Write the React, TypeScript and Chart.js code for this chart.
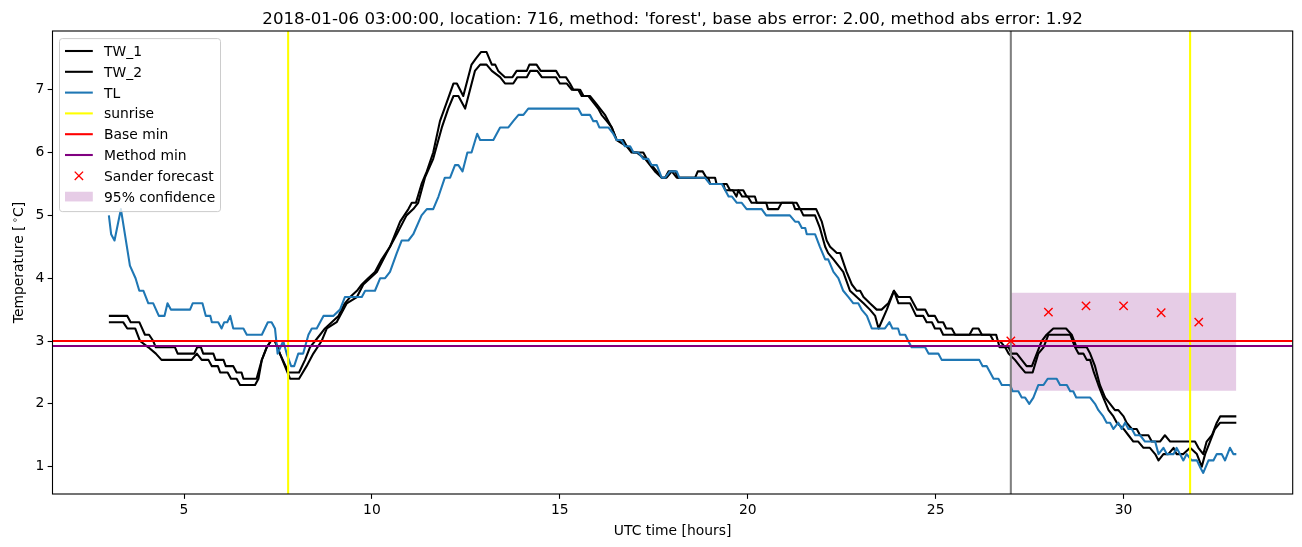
import React, { useEffect, useRef } from 'react';
import { Chart, registerables } from 'chart.js';

Chart.register(...registerables);

// ---------- data ----------
const tw1Hours = [3.0,3.49,3.58,3.81,3.96,4.07,4.18,4.25,4.76,4.83,5.27,5.35,5.45,5.51,5.78,5.84,6.05,6.11,6.31,6.40,6.53,6.58,6.93,7.07,7.20,7.31,7.42,7.55,7.78,8.06,8.22,8.35,8.62,8.75,8.93,9.11,9.28,9.42,9.60,9.73,9.90,10.08,10.26,10.48,10.75,10.97,11.06,11.17,11.32,11.46,11.63,11.81,11.99,12.17,12.26,12.43,12.65,12.77,12.90,13.05,13.19,13.28,13.36,13.54,13.74,13.85,14.12,14.19,14.38,14.49,14.90,15.00,15.16,15.27,15.36,15.54,15.63,15.80,15.94,16.07,16.20,16.29,16.38,16.51,16.69,16.78,16.96,17.22,17.31,17.44,17.58,17.71,17.80,17.89,18.07,18.15,18.60,18.67,18.80,18.90,19.13,19.17,19.44,19.53,19.88,19.97,20.19,20.24,21.30,21.39,21.82,21.97,22.10,22.19,22.37,22.46,22.63,22.77,22.90,22.99,23.08,23.25,23.43,23.56,23.74,23.89,24.01,24.32,24.50,24.72,24.81,24.98,25.07,25.20,25.28,25.43,25.52,25.90,25.99,26.14,26.23,26.61,26.70,26.94,27.02,27.16,27.29,27.42,27.56,27.69,27.82,27.95,28.13,28.47,28.62,28.75,29.02,29.11,29.24,29.37,29.51,29.64,29.77,29.86,30.00,30.08,30.22,30.35,30.44,30.66,30.75,30.88,30.97,31.10,31.24,31.90,31.99,32.12,32.21,32.35,32.48,32.57,33.00];
const tw1Values = [3.4,3.4,3.3,3.3,3.1,3.1,3.0,2.9,2.9,2.8,2.8,2.9,2.9,2.8,2.8,2.7,2.7,2.6,2.6,2.5,2.5,2.4,2.4,2.7,2.9,3.0,3.0,2.8,2.5,2.5,2.7,2.9,3.1,3.2,3.3,3.4,3.6,3.7,3.8,3.9,4.0,4.1,4.3,4.5,4.9,5.1,5.2,5.2,5.5,5.7,6.0,6.5,6.8,7.1,7.1,6.9,7.4,7.5,7.6,7.6,7.4,7.4,7.3,7.2,7.2,7.3,7.3,7.4,7.4,7.3,7.3,7.2,7.2,7.1,7.0,7.0,6.9,6.9,6.8,6.7,6.6,6.5,6.4,6.2,6.2,6.1,6.0,6.0,5.9,5.8,5.7,5.6,5.6,5.7,5.7,5.6,5.6,5.7,5.7,5.6,5.6,5.5,5.5,5.4,5.4,5.3,5.3,5.2,5.2,5.1,5.1,4.9,4.6,4.5,4.4,4.4,4.1,3.9,3.8,3.8,3.7,3.6,3.5,3.5,3.6,3.8,3.7,3.7,3.5,3.5,3.4,3.4,3.3,3.3,3.2,3.2,3.1,3.1,3.2,3.2,3.1,3.1,2.9,2.9,2.8,2.8,2.7,2.6,2.6,2.8,3.0,3.1,3.2,3.2,3.1,2.9,2.9,2.8,2.6,2.3,2.1,2.0,1.9,1.9,1.8,1.7,1.6,1.6,1.5,1.5,1.4,1.4,1.4,1.5,1.4,1.4,1.3,1.2,1.4,1.5,1.7,1.8,1.8];

const tw2Hours = [3.0,3.38,3.49,3.70,3.83,4.05,4.25,4.40,5.20,5.34,5.47,5.65,5.74,5.90,5.96,6.16,6.25,6.40,6.49,6.89,6.98,7.07,7.20,7.31,7.42,7.55,7.82,8.06,8.26,8.44,8.66,8.80,9.06,9.33,9.60,9.77,9.95,10.13,10.39,10.66,10.92,11.10,11.23,11.41,11.63,11.86,12.03,12.17,12.30,12.48,12.74,12.88,13.05,13.19,13.41,13.54,13.76,13.87,14.12,14.21,14.40,14.52,14.90,15.00,15.18,15.32,15.49,15.58,15.76,15.89,16.02,16.11,16.25,16.38,16.51,16.78,16.91,17.05,17.27,17.40,17.53,17.71,17.84,17.98,18.11,18.95,19.00,19.35,19.40,19.60,19.70,19.75,19.85,20.00,20.10,20.49,20.54,20.81,20.90,21.20,21.26,21.40,21.48,21.79,21.92,22.06,22.14,22.28,22.41,22.54,22.72,22.90,23.08,23.25,23.39,23.48,23.70,23.89,24.01,24.32,24.48,24.67,24.76,24.90,24.98,25.12,25.20,26.45,26.54,26.71,26.85,26.94,27.11,27.24,27.38,27.58,27.73,27.87,28.00,28.58,28.71,28.80,28.93,29.02,29.11,29.21,29.33,29.46,29.60,29.73,29.82,30.00,30.13,30.26,30.39,30.53,30.70,30.84,30.93,31.06,31.19,31.33,31.41,31.59,31.77,31.95,32.08,32.17,32.30,32.43,32.57,33.00];
const tw2Values = [3.3,3.3,3.2,3.2,3.0,2.9,2.8,2.7,2.7,2.8,2.7,2.7,2.6,2.6,2.5,2.5,2.4,2.4,2.3,2.3,2.4,2.7,2.9,3.0,3.0,2.8,2.4,2.4,2.6,2.8,3.0,3.2,3.3,3.6,3.7,3.9,4.0,4.1,4.4,4.7,5.0,5.1,5.2,5.6,5.9,6.4,6.7,6.9,6.9,6.7,7.3,7.4,7.4,7.3,7.2,7.1,7.1,7.2,7.2,7.3,7.3,7.2,7.2,7.1,7.1,7.0,7.0,6.9,6.9,6.8,6.7,6.6,6.5,6.4,6.2,6.1,6.0,6.0,5.9,5.8,5.7,5.6,5.6,5.7,5.6,5.6,5.5,5.5,5.4,5.4,5.3,5.4,5.3,5.3,5.2,5.2,5.1,5.1,5.2,5.2,5.1,5.1,5.0,5.0,4.8,4.5,4.4,4.3,4.2,4.1,3.8,3.7,3.6,3.5,3.4,3.2,3.5,3.8,3.6,3.6,3.4,3.4,3.3,3.3,3.2,3.2,3.1,3.1,3.0,3.0,2.9,2.8,2.7,2.6,2.5,2.5,2.8,2.9,3.1,3.1,2.9,2.8,2.8,2.7,2.7,2.5,2.3,2.1,1.9,1.8,1.7,1.6,1.5,1.4,1.4,1.3,1.3,1.2,1.1,1.2,1.2,1.3,1.2,1.2,1.3,1.2,1.0,1.2,1.4,1.6,1.7,1.7];

const tlHours = [3.00,3.06,3.15,3.32,3.56,3.71,3.81,3.92,4.05,4.18,4.33,4.48,4.56,4.65,5.16,5.23,5.49,5.58,5.70,5.74,5.91,6.00,6.07,6.15,6.23,6.31,6.58,6.67,7.07,7.23,7.33,7.42,7.49,7.64,7.73,7.85,7.93,8.04,8.17,8.31,8.40,8.53,8.71,8.97,9.15,9.28,9.73,9.82,10.08,10.22,10.35,10.48,10.66,10.79,10.97,11.10,11.32,11.46,11.63,11.77,11.94,12.08,12.21,12.30,12.41,12.54,12.65,12.80,12.88,13.23,13.41,13.63,13.76,13.90,14.03,14.16,15.49,15.58,15.80,15.89,15.98,16.05,16.29,16.42,16.51,16.64,16.73,16.87,16.96,17.09,17.22,17.35,17.44,17.58,17.71,17.80,17.93,18.11,18.18,18.86,18.99,19.31,19.40,19.49,19.58,19.71,19.84,19.97,20.37,20.49,21.12,21.26,21.35,21.44,21.53,21.57,21.79,21.92,22.06,22.14,22.28,22.41,22.54,22.68,22.81,22.94,23.03,23.17,23.30,23.65,23.77,23.85,24.00,24.05,24.19,24.27,24.36,24.72,24.81,25.07,25.16,26.16,26.25,26.36,26.45,26.54,26.67,26.76,26.98,27.05,27.20,27.29,27.38,27.49,27.60,27.73,27.87,27.98,28.22,28.31,28.49,28.58,28.66,28.74,29.11,29.24,29.33,29.46,29.55,29.64,29.73,29.86,29.95,30.04,30.13,30.22,30.31,30.44,30.57,30.70,30.84,30.93,31.06,31.15,31.33,31.41,31.50,31.59,31.68,31.81,31.95,32.03,32.12,32.26,32.39,32.48,32.61,32.70,32.83,32.92,33.00];
const tlValues = [5.0,4.7,4.6,5.1,4.2,4.0,3.8,3.8,3.6,3.6,3.4,3.4,3.6,3.5,3.5,3.6,3.6,3.4,3.4,3.3,3.3,3.2,3.3,3.3,3.4,3.2,3.2,3.1,3.1,3.3,3.3,3.2,2.8,3.0,2.8,2.6,2.6,2.8,2.8,3.1,3.2,3.2,3.4,3.4,3.5,3.7,3.7,3.8,3.8,4.0,4.0,4.1,4.4,4.6,4.6,4.7,5.0,5.1,5.1,5.3,5.6,5.6,5.8,5.8,5.7,6.0,6.0,6.3,6.2,6.2,6.4,6.4,6.5,6.6,6.6,6.7,6.7,6.6,6.6,6.5,6.5,6.4,6.4,6.3,6.2,6.2,6.1,6.1,6.0,6.0,5.9,5.9,5.8,5.8,5.6,5.6,5.7,5.7,5.6,5.6,5.5,5.5,5.4,5.3,5.3,5.2,5.2,5.1,5.1,5.0,5.0,4.9,4.9,4.8,4.8,4.7,4.7,4.5,4.3,4.3,4.1,4.0,3.8,3.7,3.6,3.6,3.5,3.4,3.2,3.2,3.3,3.2,3.2,3.1,3.1,3.0,2.9,2.9,2.8,2.8,2.7,2.7,2.6,2.6,2.5,2.4,2.4,2.3,2.3,2.2,2.2,2.1,2.1,2.0,2.1,2.3,2.3,2.4,2.4,2.3,2.3,2.2,2.2,2.1,2.1,2.0,1.9,1.8,1.7,1.7,1.6,1.7,1.6,1.7,1.6,1.6,1.5,1.5,1.4,1.4,1.4,1.2,1.3,1.2,1.2,1.3,1.2,1.1,1.2,1.1,1.1,1.0,0.9,1.1,1.1,1.2,1.2,1.1,1.3,1.2,1.2];

const sunriseHours = [7.77, 31.77];
const forecastStartHour = [27];
const baseMinValue = 3.0;
const methodMinValue = 2.92;
const forecastHours = [27, 28, 29, 30, 31, 32];
const forecastValues = [3.0, 3.46, 3.56, 3.56, 3.45, 3.3];
const confidenceHours = [27, 33];
const confidenceLow = 2.21;
const confidenceHigh = 3.77;

const xTicks = [5, 10, 15, 20, 25, 30];
const yTicks = [1, 2, 3, 4, 5, 6, 7];
const X_MIN = 1.5, X_MAX = 34.5;
const Y_MIN = 0.565, Y_MAX = 7.935;

const TITLE = "2018-01-06 03:00:00, location: 716, method: 'forest', base abs error: 2.00, method abs error: 1.92";
const X_LABEL = 'UTC time [hours]';
const Y_LABEL_PARTS = ['Temperature [', '\u2218', 'C]'];

const FONT = '"DejaVu Sans", sans-serif';
const LW = 2.08;
const C_TL = '#1f77b4';

type LegendItem = { label: string; kind: 'line' | 'x' | 'patch'; color: string };
const legendItems: LegendItem[] = [
  { label: 'TW_1', kind: 'line', color: '#000000' },
  { label: 'TW_2', kind: 'line', color: '#000000' },
  { label: 'TL', kind: 'line', color: C_TL },
  { label: 'sunrise', kind: 'line', color: '#ffff00' },
  { label: 'Base min', kind: 'line', color: '#ff0000' },
  { label: 'Method min', kind: 'line', color: '#800080' },
  { label: 'Sander forecast', kind: 'x', color: '#ff0000' },
  { label: '95% confidence', kind: 'patch', color: 'rgba(128,0,128,0.2)' },
];

const pts = (xs: number[], ys: number[]) => xs.map((x, i) => ({ x, y: ys[i] }));
const vlines = (xs: number[]) =>
  xs.flatMap((x) => [{ x, y: Y_MIN }, { x, y: Y_MAX }, { x, y: null as any }]);

const decorPlugin = {
  id: 'decor',
  afterDraw(chart: any) {
    const { ctx, chartArea: a } = chart;
    ctx.save();
    // spines
    ctx.strokeStyle = '#000';
    ctx.lineWidth = 1.1;
    ctx.strokeRect(a.left, a.top, a.right - a.left, a.bottom - a.top);

    const cx = (a.left + a.right) / 2;
    ctx.fillStyle = '#000';
    ctx.textBaseline = 'alphabetic';
    // title
    ctx.font = `16.67px ${FONT}`;
    ctx.textAlign = 'center';
    ctx.fillText(TITLE, cx, 23.5);
    // x label
    ctx.font = `13.89px ${FONT}`;
    ctx.fillText(X_LABEL, cx, 535);
    // y label (rotated)
    ctx.save();
    ctx.translate(22.5, (a.top + a.bottom) / 2);
    ctx.rotate(-Math.PI / 2);
    ctx.textAlign = 'left';
    ctx.font = `13.89px ${FONT}`;
    const w1 = ctx.measureText(Y_LABEL_PARTS[0]).width;
    const w3 = ctx.measureText(Y_LABEL_PARTS[2]).width;
    ctx.font = `9.7px ${FONT}`;
    const w2 = ctx.measureText(Y_LABEL_PARTS[1]).width;
    const gap = 2.5;
    const total = w1 + gap + w2 + w3;
    let px = -total / 2;
    ctx.font = `13.89px ${FONT}`;
    ctx.fillText(Y_LABEL_PARTS[0], px, 0);
    px += w1 + gap;
    ctx.font = `9.7px ${FONT}`;
    ctx.fillText(Y_LABEL_PARTS[1], px, -5);
    px += w2;
    ctx.font = `13.89px ${FONT}`;
    ctx.fillText(Y_LABEL_PARTS[2], px, 0);
    ctx.restore();

    // legend
    const lx = 59.5, ly = 38.6, lw = 161, lh = 173, r = 2.8;
    ctx.beginPath();
    ctx.moveTo(lx + r, ly);
    ctx.lineTo(lx + lw - r, ly);
    ctx.arcTo(lx + lw, ly, lx + lw, ly + r, r);
    ctx.lineTo(lx + lw, ly + lh - r);
    ctx.arcTo(lx + lw, ly + lh, lx + lw - r, ly + lh, r);
    ctx.lineTo(lx + r, ly + lh);
    ctx.arcTo(lx, ly + lh, lx, ly + lh - r, r);
    ctx.lineTo(lx, ly + r);
    ctx.arcTo(lx, ly, lx + r, ly, r);
    ctx.closePath();
    ctx.fillStyle = 'rgba(255,255,255,0.8)';
    ctx.fill();
    ctx.strokeStyle = '#cccccc';
    ctx.lineWidth = 1;
    ctx.stroke();

    const hx1 = 65, hx2 = 92.8, tx = 104;
    legendItems.forEach((it, i) => {
      const y = 51 + i * 20.8;
      if (it.kind === 'line') {
        ctx.strokeStyle = it.color;
        ctx.lineWidth = LW;
        ctx.beginPath();
        ctx.moveTo(hx1, y);
        ctx.lineTo(hx2, y);
        ctx.stroke();
      } else if (it.kind === 'x') {
        const m = (hx1 + hx2) / 2, s = 4.17;
        ctx.strokeStyle = it.color;
        ctx.lineWidth = 1.39;
        ctx.beginPath();
        ctx.moveTo(m - s, y - s); ctx.lineTo(m + s, y + s);
        ctx.moveTo(m - s, y + s); ctx.lineTo(m + s, y - s);
        ctx.stroke();
      } else {
        ctx.fillStyle = it.color;
        ctx.fillRect(hx1, y - 4.86, hx2 - hx1, 9.72);
      }
      ctx.fillStyle = '#000';
      ctx.font = `13.89px ${FONT}`;
      ctx.textAlign = 'left';
      ctx.fillText(it.label, tx, y + 5);
    });
    ctx.restore();
  },
};

export default function App() {
  const ref = useRef<HTMLCanvasElement>(null);
  useEffect(() => {
    if (!ref.current) return;
    const lineDs = (label: string, data: any[], color: string, order: number, extra: any = {}) => ({
      label, data, borderColor: color, backgroundColor: color, borderWidth: LW,
      pointRadius: 0, pointHoverRadius: 0, tension: 0, fill: false, order,
      borderJoinStyle: 'round', spanGaps: false, ...extra,
    });
    const chart = new Chart(ref.current, {
      type: 'line',
      data: {
        datasets: [
          lineDs('TW_1', pts(tw1Hours, tw1Values), '#000000', 9),
          lineDs('TW_2', pts(tw2Hours, tw2Values), '#000000', 8),
          lineDs('TL', pts(tlHours, tlValues), C_TL, 7),
          lineDs('sunrise', vlines(sunriseHours), '#ffff00', 6),
          lineDs('Base min', pts([X_MIN, X_MAX], [baseMinValue, baseMinValue]), '#ff0000', 5),
          lineDs('Method min', pts([X_MIN, X_MAX], [methodMinValue, methodMinValue]), '#800080', 4),
          lineDs('forecast start', vlines(forecastStartHour), '#808080', 3),
          {
            label: 'Sander forecast', data: pts(forecastHours, forecastValues), showLine: false,
            pointStyle: 'crossRot', pointRadius: 5.9, pointHoverRadius: 5.9,
            pointBorderColor: '#ff0000', pointBackgroundColor: '#ff0000', pointBorderWidth: 1.39,
            borderColor: '#ff0000', order: 1,
          },
          {
            label: '95% confidence', data: pts(confidenceHours, [confidenceHigh, confidenceHigh]),
            borderWidth: 0, borderColor: 'rgba(0,0,0,0)', pointRadius: 0,
            backgroundColor: 'rgba(128,0,128,0.2)', fill: { value: confidenceLow }, order: 20,
          },
        ] as any,
      },
      options: {
        animation: false,
        responsive: false,
        devicePixelRatio: 1,
        events: [],
        layout: { padding: { left: 0, top: 31, right: 9.3, bottom: 0 } },
        plugins: { legend: { display: false }, tooltip: { enabled: false }, title: { display: false } },
        scales: {
          x: {
            type: 'linear', min: X_MIN, max: X_MAX,
            afterBuildTicks: (s: any) => { s.ticks = xTicks.map((v) => ({ value: v })); },
            afterFit: (s: any) => { s.height = 53; },
            border: { display: false },
            grid: { drawOnChartArea: false, drawTicks: true, tickLength: 4.86, tickWidth: 1.1, tickColor: '#000' },
            ticks: { color: '#000', font: { family: FONT, size: 13.89 }, padding: 2.8, maxRotation: 0, autoSkip: false },
          },
          y: {
            type: 'linear', min: Y_MIN, max: Y_MAX,
            afterBuildTicks: (s: any) => { s.ticks = yTicks.map((v) => ({ value: v })); },
            afterFit: (s: any) => { s.width = 52.5; },
            border: { display: false },
            grid: { drawOnChartArea: false, drawTicks: true, tickLength: 4.86, tickWidth: 1.1, tickColor: '#000' },
            ticks: { color: '#000', font: { family: FONT, size: 13.89 }, padding: 3.2, autoSkip: false },
          },
        },
      } as any,
      plugins: [decorPlugin],
    });
    return () => chart.destroy();
  }, []);
  return (
    <div style={{ position: 'absolute', left: 0, top: 0, width: 1302, height: 547, background: '#ffffff' }}>
      <canvas ref={ref} width={1302} height={547} style={{ display: 'block', width: 1302, height: 547 }} />
    </div>
  );
}
